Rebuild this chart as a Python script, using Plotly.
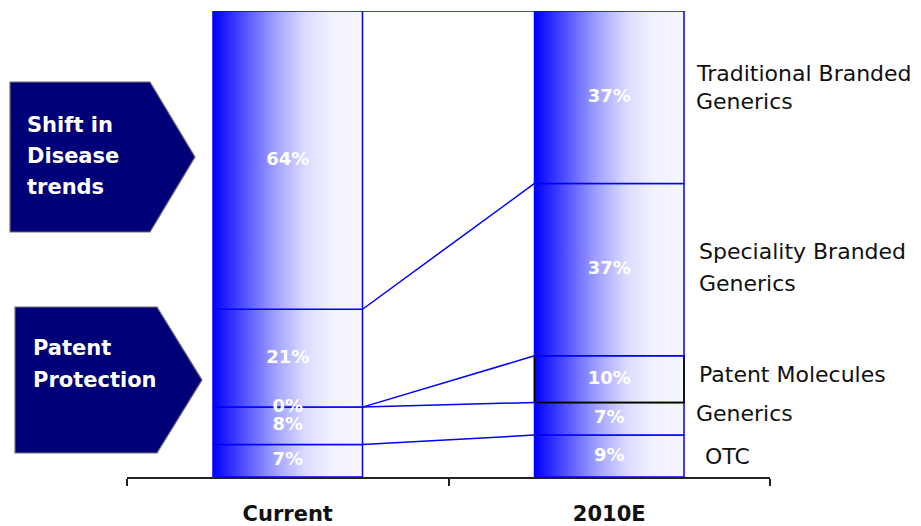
import plotly.graph_objects as go

# Market mix by segment (%), listed bottom to top of each column
categories = ["Current", "2010E"]
segments = ["OTC", "Generics", "Patent Molecules",
            "Speciality Branded Generics", "Traditional Branded Generics"]
current_share = [7, 8, 0, 21, 64]
future_share = [9, 7, 10, 37, 37]
pct_labels_current = ["7%", "8%", "0%", "21%", "64%"]
pct_labels_future = ["9%", "7%", "10%", "37%", "37%"]
segment_labels = [["OTC"], ["Generics"], ["Patent Molecules"],
                  ["Speciality Branded", "Generics"],
                  ["Traditional Branded", "Generics"]]
driver_boxes = [["Shift in", "Disease", "trends"], ["Patent", "Protection"]]

W, H = 921, 526
M = dict(l=127, r=151, t=11, b=49)
PW, PH = W - M["l"] - M["r"], H - M["t"] - M["b"]
BAR_W = 0.465
BLUE = "#0000FF"
NAVY = "#000078"
FONT = "DejaVu Sans"

gradient = dict(type="horizontal", colorscale=[
    [0.0, "#0000FF"], [0.18, "#4646FF"], [0.42, "#A2A2FF"],
    [0.62, "#DCDCFF"], [0.8, "#F2F2FF"], [1.0, "#F6F6FF"]])


def px(x, y):
    """Pixel position on the page -> paper coordinates."""
    return (x - M["l"]) / PW, (H - M["b"] - y) / PH


def cumulative(vals):
    out, s = [0], 0
    for v in vals:
        s += v
        out.append(s)
    return out


fig = go.Figure()

cums = [cumulative(current_share), cumulative(future_share)]
labels = [pct_labels_current, pct_labels_future]

# Stacked columns with a blue-to-white horizontal gradient
for ci, cum in enumerate(cums):
    x0, x1 = ci - BAR_W / 2, ci + BAR_W / 2
    for k in range(len(segments)):
        y0, y1 = cum[k], cum[k + 1]
        if y1 == y0:
            continue
        fig.add_trace(go.Scatter(
            x=[x0, x1, x1, x0, x0], y=[y0, y0, y1, y1, y0],
            mode="lines", fill="toself", fillgradient=gradient,
            line=dict(color=BLUE, width=1.5), hoverinfo="skip",
            showlegend=False))

# Black frame around the 2010E patent segment (left, bottom, right)
pk = segments.index("Patent Molecules")
c2 = cums[1]
fig.add_trace(go.Scatter(
    x=[1 - BAR_W / 2, 1 - BAR_W / 2, 1 + BAR_W / 2, 1 + BAR_W / 2],
    y=[c2[pk + 1], c2[pk], c2[pk], c2[pk + 1]],
    mode="lines", line=dict(color="#000000", width=1.5),
    hoverinfo="skip", showlegend=False))

# Connectors between matching segment boundaries
for k in range(1, len(segments) + 1):
    fig.add_trace(go.Scatter(
        x=[BAR_W / 2, 1 - BAR_W / 2], y=[cums[0][k], cums[1][k]],
        mode="lines", line=dict(color=BLUE, width=1.5),
        hoverinfo="skip", showlegend=False))

# Percentage labels inside the segments
for ci, cum in enumerate(cums):
    mids = [(cum[k] + cum[k + 1]) / 2 for k in range(len(segments))]
    fig.add_trace(go.Scatter(
        x=[ci] * len(mids), y=mids, text=labels[ci], mode="text",
        textfont=dict(family=FONT, size=18, color="white", weight="bold"),
        hoverinfo="skip", showlegend=False))

# Segment names to the right of the 2010E column: (shift, half line gap, x px)
placement = [(0, 0, 703), (5, 0, 694), (5, 0, 697), (2, 16, 697), (10, 14, 694)]
for k, lines in enumerate(segment_labels):
    mid = (c2[k] + c2[k + 1]) / 2
    base, half_gap, xpix = placement[k]
    n = len(lines)
    for j, text in enumerate(lines):
        offset = base + (half_gap if j == 0 else -half_gap) if n > 1 else base
        fig.add_annotation(
            x=px(xpix, 0)[0], xref="paper", y=mid, yref="y", yshift=offset,
            text=text, showarrow=False, xanchor="left", yanchor="middle",
            font=dict(family=FONT, size=22, color="#111111"))

# Driver call-outs on the left
box_geo = [dict(x0=10, x1=150, tip=195, y0=82, y1=232, tx=25, ty=[125, 156, 187]),
           dict(x0=15, x1=157, tip=202, y0=307, y1=453, tx=31, ty=[348, 380])]
for g, lines in zip(box_geo, driver_boxes):
    ym = (g["y0"] + g["y1"]) / 2
    pts = [px(g["x0"], g["y0"]), px(g["x1"], g["y0"]), px(g["tip"], ym),
           px(g["x1"], g["y1"]), px(g["x0"], g["y1"])]
    path = "M " + " L ".join(f"{a:.5f},{b:.5f}" for a, b in pts) + " Z"
    fig.add_shape(type="path", path=path, xref="paper", yref="paper",
                  fillcolor=NAVY, line=dict(color="#707070", width=1.2),
                  layer="above")
    for text, ty in zip(lines, g["ty"]):
        ax, ay = px(g["tx"], ty)
        fig.add_annotation(x=ax, y=ay, xref="paper", yref="paper", text=text,
                           showarrow=False, xanchor="left", yanchor="middle",
                           font=dict(family=FONT, size=21, color="white",
                                     weight="bold"))

fig.update_layout(
    width=W, height=H, margin=M, paper_bgcolor="white", plot_bgcolor="white",
    showlegend=False,
    xaxis=dict(range=[-0.5, 1.5], tickvals=[0, 1], ticktext=categories,
               ticks="", showline=False, showgrid=False, zeroline=False,
               automargin=False, ticklabelstandoff=22,
               tickfont=dict(family=FONT, size=21, color="#111111",
                             weight="bold")),
    xaxis2=dict(range=[-0.5, 1.5], overlaying="x", side="bottom",
                anchor="y", automargin=False,
                tickvals=[-0.5, 0.5, 1.5], showticklabels=False,
                ticks="outside", ticklen=7, tickwidth=1.5, tickcolor="#222222",
                showline=True, linecolor="#222222", linewidth=1.5,
                showgrid=False, zeroline=False),
    yaxis=dict(range=[0, 100], visible=False, automargin=False),
)
# an invisible trace keeps the boundary-tick axis drawn
fig.add_trace(go.Scatter(x=[0], y=[0], xaxis="x2", mode="markers",
                         marker=dict(opacity=0), hoverinfo="skip",
                         showlegend=False))

fig.write_html("out.html")
